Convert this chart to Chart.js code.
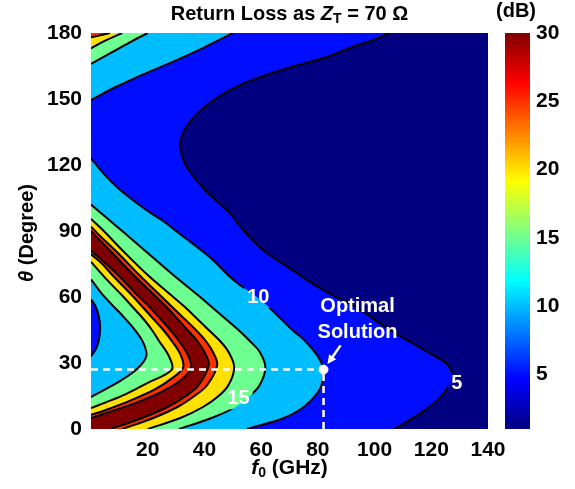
<!DOCTYPE html>
<html>
<head>
<meta charset="utf-8">
<script src="https://cdn.jsdelivr.net/npm/chart.js@4.4.0/dist/chart.umd.min.js"></script>
<style>
  html, body { margin: 0; padding: 0; background: #fff; }
  #wrap { position: relative; width: 575px; height: 489px; }
  #main { position: absolute; left: 0; top: 0; }
  #cbar { position: absolute; left: 495px; top: 0; }
</style>
</head>
<body>
<div id="wrap">
  <canvas id="main" width="575" height="489"></canvas>
  <canvas id="cbar" width="80" height="489"></canvas>
</div>
<script>
// eixos
var xTicks = [20, 40, 60, 80, 100, 120, 140];
var yTicks = [0, 30, 60, 90, 120, 150, 180];
var cbarTicks = [5, 10, 15, 20, 25, 30];
var cbarRange = [1, 30];

// niveis de contorno (dB) e cor de cada faixa (jet)
var levels = [5, 10, 15, 20, 25, 30];
var bandColors = ['#000080', '#000DFF', '#00BDFF', '#6EFF91', '#FFE000', '#FF3000', '#800000'];

// curvas de contorno: [f0 (GHz), theta (graus)]
var c5 = [[107,0],[116,7],[122,13],[126.5,20],[127.5,24],[126,29],[120,34],[112,40],[103,47],[94,55],[85,61],[77,67],[69,74],[61,81],[54,90],[49,98],[44,104],[40,109],[36,115],[33,121],[31.5,128],[32,133],[34,138],[38,144],[45,151],[52,156],[62,161],[72,165],[83,169],[93,174],[100,177],[105,180]];
var c10 = [[55,0],[68,5],[75,10],[79,15],[81.3,20],[82,27],[80,33],[75.5,40],[71,45],[67,50],[63,55],[58.5,60],[50,68],[42,78],[31,89],[26,94],[19,100],[10,109],[4.5,116],[0,123]];
var c10top = [[0,149.5],[8,155],[18,161],[29,167],[40,173.5],[50,180]];
var c15 = [[31,0],[42.5,5],[51,10],[56,15],[59.5,20],[61.5,28],[59.5,35],[56,40],[52,45],[47.5,50],[43,55],[38.5,60],[29,70],[20,80],[11,90],[5.5,96],[0,102]];
var c15top = [[0,166],[7,171],[14,176],[20,180]];
var c20 = [[20,0],[31.5,5],[39.5,10],[45,15],[48.5,20],[50.5,28],[48.5,35],[45.5,40],[41.5,45],[37.5,50],[33.5,55],[29,60],[20,70],[12,80],[4.5,90],[0,95.5]];
var c20top = [[0,173],[5,176.5],[11,180]];
var c25 = [[11,0],[22,5],[30.5,10],[36.5,15],[41,20],[44.5,29],[43,35],[40.5,40],[37,45],[33,50],[29,55],[25,60],[17,70],[9.5,80],[3,88],[0,92]];
var c25top = [[0,178],[6.7,180]];
var c30 = [[7,0],[18,5],[27,10],[33.5,15],[38,20],[41.5,29],[40,35],[37.5,40],[34,45],[30.5,50],[27,55],[23,60],[15,70],[7.5,80],[3,86],[0,90]];
// lado interno da crista
var c30in = [[0,5],[7,8],[16,12],[25,17],[31.5,22],[35.3,28],[34,34],[31,40],[28,45],[24.5,50],[21,55],[17,60],[9.5,70],[4.5,76],[0,81]];
var c25in = [[0,6.4],[6,9],[14,13],[22.5,18],[28.5,23],[32.5,28],[31.5,34],[28.5,40],[25.5,45],[22,50],[18.5,55],[15,60],[7.5,70],[4,75],[0,79.5]];
var c20in = [[0,9.5],[5,12],[12.5,16],[20,21],[28.5,27],[27.5,33],[24,40],[21.5,45],[18.5,50],[15,55],[11.5,60],[5.5,68],[0,76]];
var c15in = [[0,14.5],[5,18],[10.5,22],[16,27],[19.5,33],[18.5,39],[15.5,45],[11.5,51],[7,57],[3.5,62],[0,68]];
var c10in = [[0,33],[2,37],[3,42],[3.2,47],[2.6,52],[1.5,56],[0,59]];

// solucao otima
var optimal = [82, 27];

var FONT = '"Liberation Sans", Arial, Helvetica, sans-serif';

// rotulos das curvas (f0, theta) e textos
var notes = [
  {t: '10', f: 59, th: 60, curve: 'c10'},
  {t: '15', f: 52, th: 14, curve: 'c15'},
  {t: '5', f: 129, th: 20.5, curve: 'c5'},
  {t: 'Optimal', f: 94, th: 55.5},
  {t: 'Solution', f: 94, th: 44}
];

// ordem de pintura: cada curva preenche ate f0 = 0 com a cor da faixa
var curves = [
  ['c5', c5, 1], ['c10', c10, 2], ['c10top', c10top, 2], ['c15', c15, 3], ['c15top', c15top, 3],
  ['c20', c20, 4], ['c20top', c20top, 4], ['c25', c25, 5], ['c25top', c25top, 5], ['c30', c30, 6],
  ['c30in', c30in, 5], ['c25in', c25in, 4], ['c20in', c20in, 3], ['c15in', c15in, 2], ['c10in', c10in, 1]
];

function toXY(arr) {
  return arr.map(function(p) { return {x: p[0], y: p[1]}; });
}

var datasets = curves.map(function(c) {
  return {
    label: c[0],
    data: toXY(c[1]),
    fill: {value: 0},
    backgroundColor: bandColors[c[2]],
    borderColor: '#000',
    borderWidth: 2,
    pointRadius: 0,
    tension: 0.35
  };
});

// linhas tracejadas ate a solucao otima
datasets.push({
  label: 'h',
  data: [{x: 0, y: optimal[1]}, {x: optimal[0], y: optimal[1]}],
  fill: false, borderColor: '#fff', borderWidth: 2.5, borderDash: [7, 5], pointRadius: 0
});
datasets.push({
  label: 'v',
  data: [{x: optimal[0], y: 0}, {x: optimal[0], y: optimal[1]}],
  fill: false, borderColor: '#fff', borderWidth: 2.5, borderDash: [7, 5], pointRadius: 0
});
datasets.push({
  label: 'otimo',
  data: [{x: optimal[0], y: optimal[1]}],
  showLine: false, pointRadius: 4.5, pointBackgroundColor: '#fff', pointBorderColor: '#fff'
});

var n = datasets.length;
datasets.forEach(function(d, i) { d.order = n - 1 - i; });

function drawRuns(ctx, runs, cx, cy) {
  var total = 0;
  runs.forEach(function(r) { ctx.font = r.font; r.w = ctx.measureText(r.t).width; total += r.w; });
  var x = cx - total / 2;
  ctx.textBaseline = 'middle';
  ctx.textAlign = 'left';
  runs.forEach(function(r) {
    ctx.font = r.font;
    ctx.fillText(r.t, x, cy + (r.dy || 0));
    x += r.w;
  });
}

var textPlugin = {
  id: 'textos',
  beforeDatasetsDraw: function(chart) {
    var a = chart.chartArea, ctx = chart.ctx;
    ctx.save();
    ctx.fillStyle = bandColors[0];
    ctx.fillRect(a.left, a.top, a.right - a.left, a.bottom - a.top);
    ctx.restore();
  },
  // abre um espaco na linha de contorno onde fica o rotulo
  beforeDatasetDraw: function(chart, args) {
    var label = chart.data.datasets[args.index].label;
    var ctx = chart.ctx;
    ctx.save();
    var hits = notes.filter(function(nt) { return nt.curve === label; });
    if (!hits.length) return;
    ctx.font = 'bold 20px ' + FONT;
    ctx.beginPath();
    ctx.rect(0, 0, chart.width, chart.height);
    hits.forEach(function(nt) {
      var w = ctx.measureText(nt.t).width + 6;
      var px = chart.scales.x.getPixelForValue(nt.f), py = chart.scales.y.getPixelForValue(nt.th);
      ctx.rect(px - w / 2, py - 11, w, 22);
    });
    ctx.clip('evenodd');
  },
  afterDatasetDraw: function(chart) {
    chart.ctx.restore();
  },
  afterDatasetsDraw: function(chart) {
    var ctx = chart.ctx, sx = chart.scales.x, sy = chart.scales.y;
    ctx.save();
    ctx.fillStyle = '#fff';
    ctx.font = 'bold 20px ' + FONT;
    ctx.textAlign = 'center';
    ctx.textBaseline = 'middle';
    notes.forEach(function(nt) {
      ctx.fillText(nt.t, sx.getPixelForValue(nt.f), sy.getPixelForValue(nt.th));
    });
    // seta
    var x1 = sx.getPixelForValue(88), y1 = sy.getPixelForValue(38);
    var x2 = sx.getPixelForValue(83.4), y2 = sy.getPixelForValue(29.5);
    var ang = Math.atan2(y2 - y1, x2 - x1);
    ctx.strokeStyle = '#fff';
    ctx.lineWidth = 2.5;
    ctx.beginPath();
    ctx.moveTo(x1, y1);
    ctx.lineTo(x2 - 6 * Math.cos(ang), y2 - 6 * Math.sin(ang));
    ctx.stroke();
    ctx.beginPath();
    ctx.moveTo(x2, y2);
    ctx.lineTo(x2 - 10 * Math.cos(ang - 0.45), y2 - 10 * Math.sin(ang - 0.45));
    ctx.lineTo(x2 - 10 * Math.cos(ang + 0.45), y2 - 10 * Math.sin(ang + 0.45));
    ctx.closePath();
    ctx.fill();
    ctx.restore();
  },
  afterDraw: function(chart) {
    var ctx = chart.ctx, a = chart.chartArea;
    var cx = (a.left + a.right) / 2;
    ctx.save();
    ctx.fillStyle = '#000';
    drawRuns(ctx, [
      {t: 'Return Loss as ', font: 'bold 20px ' + FONT},
      {t: 'Z', font: 'italic bold 20px ' + FONT},
      {t: 'T', font: 'bold 14px ' + FONT, dy: 5},
      {t: ' = 70 \u03A9', font: 'bold 20px ' + FONT}
    ], cx, 14);
    drawRuns(ctx, [
      {t: 'f', font: 'italic bold 21px ' + FONT},
      {t: '0', font: 'bold 14px ' + FONT, dy: 5},
      {t: ' (GHz)', font: 'bold 21px ' + FONT}
    ], cx, 468);
    ctx.translate(27, 233);
    ctx.rotate(-Math.PI / 2);
    drawRuns(ctx, [
      {t: '\u03B8', font: 'italic bold 20px ' + FONT},
      {t: ' (Degree)', font: 'bold 20px ' + FONT}
    ], 0, 0);
    ctx.restore();
  }
};

var tickFont = {family: FONT, size: 21, weight: 'bold'};

new Chart(document.getElementById('main'), {
  type: 'line',
  data: {datasets: datasets},
  options: {
    indexAxis: 'y',
    responsive: false,
    animation: false,
    layout: {padding: {left: 0, right: 87, top: 33, bottom: 0}},
    plugins: {legend: {display: false}, tooltip: {enabled: false}},
    scales: {
      x: {
        type: 'linear', min: 0, max: 140,
        grid: {display: false, drawTicks: false},
        border: {display: false},
        afterBuildTicks: function(s) { s.ticks = xTicks.map(function(v) { return {value: v}; }); },
        afterFit: function(s) { s.height = 60; },
        ticks: {font: tickFont, color: '#000', padding: 9, maxRotation: 0}
      },
      y: {
        type: 'linear', min: 0, max: 180,
        grid: {display: false, drawTicks: false},
        border: {display: false},
        afterBuildTicks: function(s) { s.ticks = yTicks.map(function(v) { return {value: v}; }); },
        afterFit: function(s) { s.width = 91; },
        ticks: {font: tickFont, color: '#000', padding: 9}
      }
    }
  },
  plugins: [textPlugin]
});

// barra de cores
var jetStops = [[0, '#000080'], [0.125, '#0000FF'], [0.375, '#00FFFF'], [0.625, '#FFFF00'], [0.875, '#FF0000'], [1, '#800000']];

new Chart(document.getElementById('cbar'), {
  type: 'bar',
  data: {
    labels: ['dB'],
    datasets: [{
      data: [cbarRange],
      barPercentage: 1,
      categoryPercentage: 1,
      borderWidth: 0,
      backgroundColor: function(c) {
        var area = c.chart.chartArea;
        if (!area) return bandColors[0];
        var g = c.chart.ctx.createLinearGradient(0, area.bottom, 0, area.top);
        jetStops.forEach(function(s) { g.addColorStop(s[0], s[1]); });
        return g;
      }
    }]
  },
  options: {
    responsive: false,
    animation: false,
    layout: {padding: {left: 10, right: 0, top: 33, bottom: 60}},
    plugins: {legend: {display: false}, tooltip: {enabled: false}},
    scales: {
      x: {display: false},
      y: {
        position: 'right', min: cbarRange[0], max: cbarRange[1],
        grid: {display: false, drawTicks: false},
        border: {display: false},
        afterBuildTicks: function(s) { s.ticks = cbarTicks.map(function(v) { return {value: v}; }); },
        afterFit: function(s) { s.width = 45; },
        ticks: {font: tickFont, color: '#000', padding: 6}
      }
    }
  },
  plugins: [{
    id: 'unidade',
    afterDraw: function(chart) {
      var ctx = chart.ctx;
      ctx.save();
      ctx.fillStyle = '#000';
      ctx.font = 'bold 20px ' + FONT;
      ctx.textAlign = 'center';
      ctx.textBaseline = 'middle';
      ctx.fillText('(dB)', 21, 11);
      ctx.restore();
    }
  }]
});
</script>
</body>
</html>
